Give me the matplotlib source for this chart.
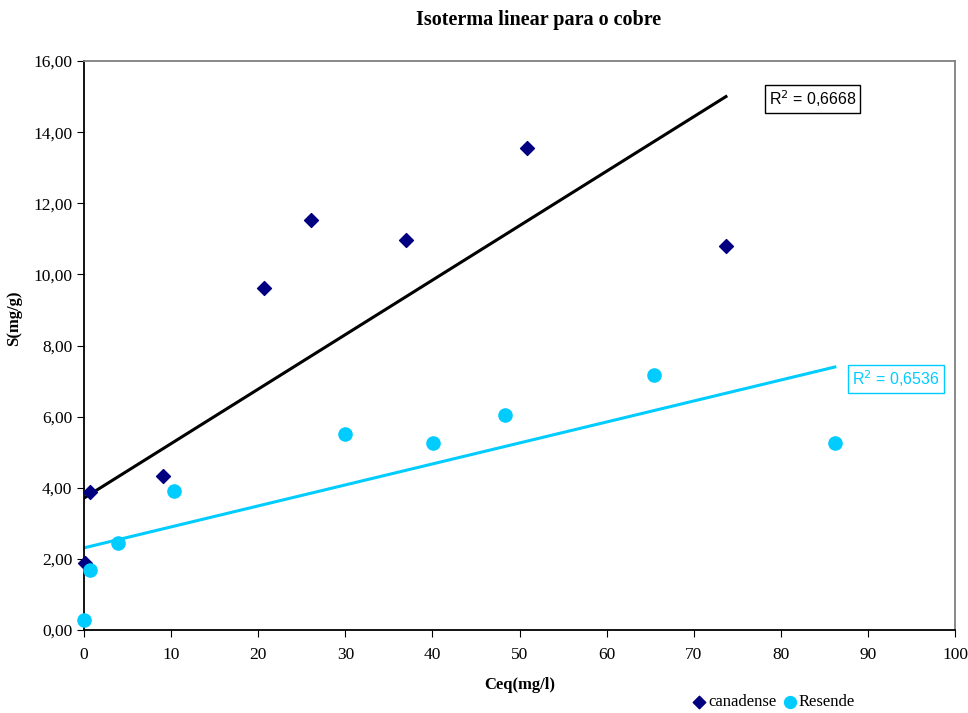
import matplotlib
matplotlib.use("Agg")
import matplotlib.pyplot as plt
import numpy as np
from matplotlib.ticker import FuncFormatter, MultipleLocator

# dados
can_x = [0.1, 0.7, 9.1, 20.7, 26.1, 37.0, 50.9, 73.7]
can_y = [1.88, 3.88, 4.33, 9.62, 11.53, 10.97, 13.55, 10.80]
res_x = [0.0, 0.7, 3.9, 10.3, 30.0, 40.1, 48.3, 65.4, 86.2]
res_y = [0.28, 1.69, 2.45, 3.91, 5.51, 5.26, 6.05, 7.17, 5.26]

# linhas de tendencia do Excel (intercepto, inclinacao)
can_trend = [3.71, 0.1532]
res_trend = [2.31, 0.0590]
r2_can = "0,6668"
r2_res = "0,6536"

navy = "#000080"
cyan = "#00CCFF"

plt.rcParams['font.family'] = ['Liberation Serif', 'DejaVu Serif']

fig = plt.figure(figsize=(9.68, 7.13), dpi=100)
ax = fig.add_axes([0.0868, 0.1164, 0.8998, 0.798])

xx1 = np.array([0, max(can_x)])
xx2 = np.array([0, max(res_x)])
ax.plot(xx1, can_trend[0] + can_trend[1] * xx1, color='black', lw=2.2, zorder=2)
ax.plot(xx2, res_trend[0] + res_trend[1] * xx2, color=cyan, lw=2.2, zorder=2)

ax.scatter(can_x, can_y, marker='D', s=50, color=navy, label='canadense', zorder=3, clip_on=False)
ax.scatter(res_x, res_y, marker='o', s=90, color=cyan, label='Resende', zorder=3, clip_on=False)

ax.set_xlim(0, 100)
ax.set_ylim(0, 16)
ax.xaxis.set_major_locator(MultipleLocator(10))
ax.yaxis.set_major_locator(MultipleLocator(2))
ax.yaxis.set_major_formatter(FuncFormatter(lambda v, p: ('%.2f' % v).replace('.', ',')))
ax.tick_params(direction='out', length=5, labelsize=12.5, colors='black')
ax.tick_params(axis='x', pad=7)

for s in ['top', 'right']:
    ax.spines[s].set_color('#808080')
for s in ['left', 'bottom']:
    ax.spines[s].set_color('black')
for s in ax.spines.values():
    s.set_linewidth(1.3)

fig.text(0.556, 0.972, 'Isoterma linear para o cobre', fontsize=14.5, fontweight='bold',
         ha='center', va='center')
ax.set_xlabel('Ceq(mg/l)', fontsize=12, fontweight='bold', labelpad=10)
ax.set_ylabel('S(mg/g)', fontsize=12, fontweight='bold')
ax.yaxis.set_label_coords(-0.071, 0.548)

ax.text(78.6, 14.93, r'R$^2$ = ' + r2_can, fontsize=11.5, family='Liberation Sans',
        color='black', ha='left', va='center',
        bbox=dict(boxstyle='square,pad=0.25', fc='white', ec='black', lw=1))
ax.text(88.2, 7.06, r'R$^2$ = ' + r2_res, fontsize=11.5, family='Liberation Sans',
        color=cyan, ha='left', va='center',
        bbox=dict(boxstyle='square,pad=0.25', fc='white', ec=cyan, lw=1))

fig.legend(loc='lower left', bbox_to_anchor=(0.698, -0.017), ncol=2, frameon=False,
           fontsize=12, handletextpad=0.05, columnspacing=0.3, handlelength=1.0,
           markerscale=0.9)

fig.savefig('out.png', dpi=100)
